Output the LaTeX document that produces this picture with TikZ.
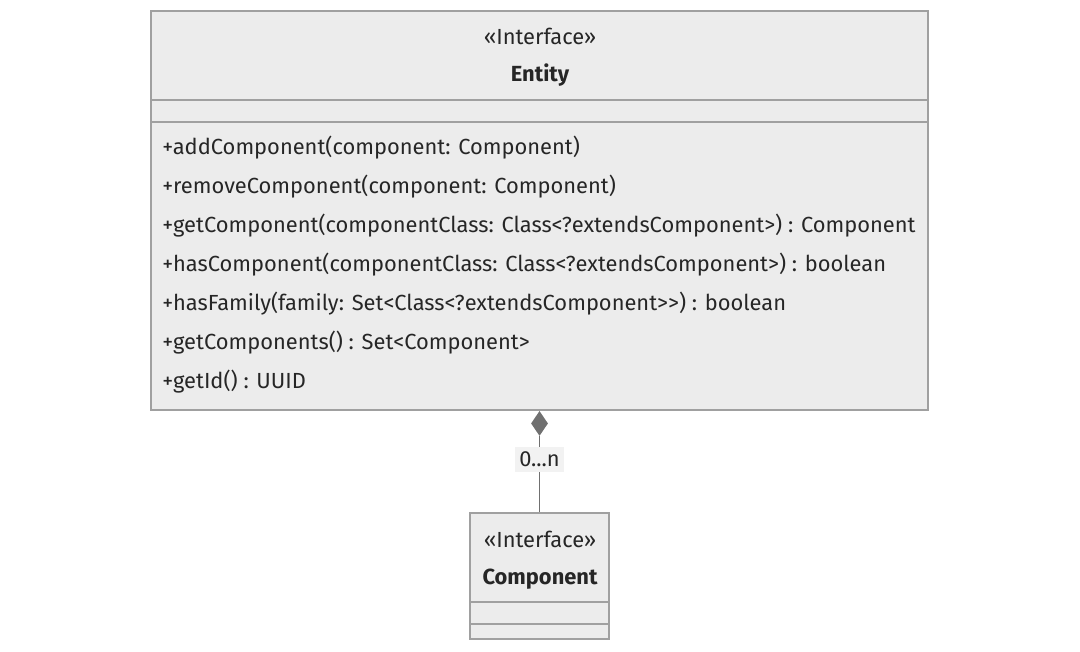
\documentclass[tikz,border=0pt]{standalone}
\usepackage{fontspec}
\setmainfont{Fira Sans}
\usetikzlibrary{shapes.geometric}
\definecolor{boxfill}{HTML}{ECECEC}
\definecolor{boxline}{HTML}{A0A0A0}
\definecolor{linkline}{HTML}{707070}
\definecolor{txt}{HTML}{262626}

\begin{document}
\begin{tikzpicture}[x=0.75pt,y=-0.75pt,
                    classBX/.style={rectangle,
                                    draw=boxline,
                                    fill=boxfill,
                                    line width=1pt,
                                    inner sep=0pt},
                    sepLN/.style={draw=boxline, line width=1pt},
                    txtND/.style={text=txt,
                                  inner sep=0pt,
                                  font=\fontsize{16.4}{18}\selectfont},
                    methND/.style={txtND, anchor=west}]
    \useasboundingbox (0,0) rectangle (1080,651);
    % Entity class
    \node[classBX, minimum width=777*0.75pt, minimum height=399*0.75pt]
        (entity) at (539.5,210.5) {};
    \draw[sepLN] (151,100) -- (928,100);
    \draw[sepLN] (151,122) -- (928,122);
    \node[txtND](entSt)  at (540,36) {«Interface»};
    \node[txtND, font=\fontsize{16.4}{18}\selectfont\bfseries](entNm) at (540,75) {Entity};
    \node[methND](m1) at (162,148) {+addComponent(component: Component)};
    \node[methND](m2) at (162,187) {+removeComponent(component: Component)};
    \node[methND](m3) at (162,226) {+getComponent(componentClass: Class<?extendsComponent>) : Component};
    \node[methND](m4) at (162,265) {+hasComponent(componentClass: Class<?extendsComponent>) : boolean};
    \node[methND](m5) at (162,304) {+hasFamily(family: Set<Class<?extendsComponent>{}>) : boolean};
    \node[methND](m6) at (162,343) {+getComponents() : Set<Component>};
    \node[methND](m7) at (162,382) {+getId() : UUID};
    % Component class
    \node[classBX, minimum width=139*0.75pt, minimum height=126*0.75pt]
        (comp) at (539.5,576) {};
    \draw[sepLN] (470,602) -- (609,602);
    \draw[sepLN] (470,624) -- (609,624);
    \node[txtND](compSt) at (540,539) {«Interface»};
    \node[txtND, font=\fontsize{16.4}{18}\selectfont\bfseries](compNm) at (540,579) {Component};
    % composition
    \node[diamond, fill=linkline, draw=none, inner sep=0pt,
          minimum width=17*0.75pt, minimum height=25*0.75pt,
          anchor=north](dia) at (entity.south) {};
    \path[draw=linkline, line width=1.2pt] (dia.south) -- (comp.north)
        node[pos=0.3, fill=boxfill!70!white, txtND, inner xsep=3pt,
             minimum height=25*0.75pt] {0.{}.{}.n};
\end{tikzpicture}
\end{document}
